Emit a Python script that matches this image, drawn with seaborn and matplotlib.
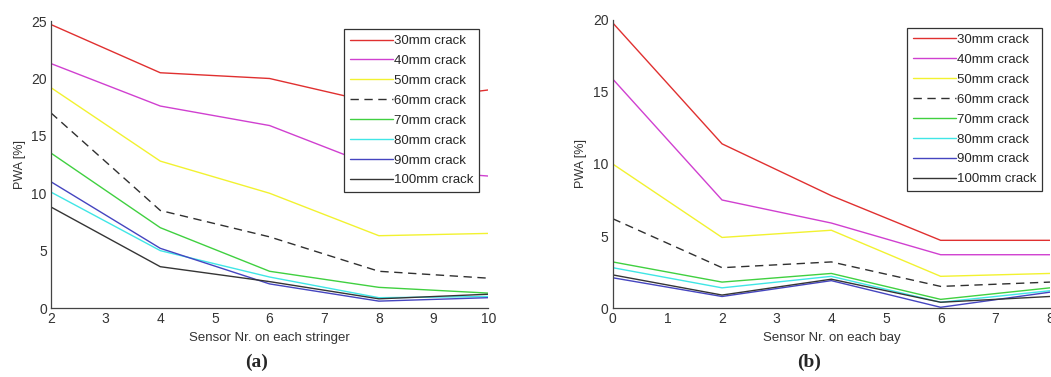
import numpy as np
import pandas as pd
import matplotlib
matplotlib.use('Agg')
import matplotlib.pyplot as plt
import seaborn as sns

sns.set_style('white')
plt.rcParams['font.family'] = ['Liberation Sans', 'DejaVu Sans']

cracks = ['30mm crack', '40mm crack', '50mm crack', '60mm crack',
          '70mm crack', '80mm crack', '90mm crack', '100mm crack']
colors = ['#e03030', '#d040d0', '#f2f230', '#303030',
          '#40d040', '#40e6e6', '#4545c0', '#353535']

# (a) sensors on each stringer
x_a = [2, 4, 6, 8, 10]
pwa_a = {
    '30mm crack': [24.7, 20.5, 20.0, 17.8, 19.0],
    '40mm crack': [21.3, 17.6, 15.9, 12.2, 11.5],
    '50mm crack': [19.2, 12.8, 10.0, 6.3, 6.5],
    '60mm crack': [17.0, 8.5, 6.2, 3.2, 2.6],
    '70mm crack': [13.5, 7.0, 3.2, 1.8, 1.3],
    '80mm crack': [10.1, 5.0, 2.7, 0.9, 1.0],
    '90mm crack': [11.0, 5.2, 2.1, 0.6, 0.9],
    '100mm crack': [8.8, 3.6, 2.3, 0.8, 1.2],
}

# (b) sensors on each bay
x_b = [0, 2, 4, 6, 8]
pwa_b = {
    '30mm crack': [19.8, 11.4, 7.8, 4.7, 4.7],
    '40mm crack': [15.9, 7.5, 5.9, 3.7, 3.7],
    '50mm crack': [10.0, 4.9, 5.4, 2.2, 2.4],
    '60mm crack': [6.2, 2.8, 3.2, 1.5, 1.8],
    '70mm crack': [3.2, 1.8, 2.4, 0.6, 1.4],
    '80mm crack': [2.8, 1.4, 2.2, 0.4, 1.2],
    '90mm crack': [2.1, 0.8, 1.9, 0.05, 1.1],
    '100mm crack': [2.3, 0.9, 2.0, 0.4, 0.8],
}


def to_long(xs, data):
    rows = []
    for c in cracks:
        for x, v in zip(xs, data[c]):
            rows.append({'sensor': x, 'PWA': v, 'crack': c})
    return pd.DataFrame(rows)


palette = dict(zip(cracks, colors))
dashes = {c: (6, 4) if c == '60mm crack' else '' for c in cracks}

fig = plt.figure(figsize=(10.51, 3.77), dpi=100)
ax_a = fig.add_axes([0.0485, 0.183, 0.416, 0.761])
ax_b = fig.add_axes([0.583, 0.183, 0.416, 0.764])

panels = [
    (ax_a, x_a, pwa_a, 'Sensor Nr. on each stringer', (2, 10), (0, 25), [0, 5, 10, 15, 20, 25], '(a)',
     (0.327, 0.923), 0.47),
    (ax_b, x_b, pwa_b, 'Sensor Nr. on each bay', (0, 8), (0, 20), [0, 5, 10, 15, 20], '(b)',
     (0.863, 0.926), 0.45),
]

for ax, xs, data, xlabel, xlim, ylim, yticks, tag, leg_pos, tag_x in panels:
    df = to_long(xs, data)
    sns.lineplot(data=df, x='sensor', y='PWA', hue='crack', style='crack',
                 palette=palette, dashes=dashes, linewidth=1.0, ax=ax,
                 legend=True)
    ax.set_xlim(*xlim)
    ax.set_ylim(*ylim)
    ax.set_xticks(range(xlim[0], xlim[1] + 1))
    ax.set_yticks(yticks)
    ax.set_xlabel(xlabel, fontsize=9.5, color='#333333', labelpad=4)
    ax.set_ylabel('PWA [%]', fontsize=9, color='#333333', labelpad=4)
    ax.tick_params(direction='in', length=4, labelsize=10, colors='#333333', pad=3)
    for s in ['top', 'right']:
        ax.spines[s].set_visible(False)
    for s in ['left', 'bottom']:
        ax.spines[s].set_color('#444444')
        ax.spines[s].set_linewidth(0.9)
    handles, labels = ax.get_legend_handles_labels()
    leg = ax.legend(handles, labels, loc='upper left', bbox_to_anchor=leg_pos,
                    bbox_transform=fig.transFigure, fontsize=9.5, frameon=True,
                    handlelength=3.3, handletextpad=0.05, labelspacing=0.58,
                    borderpad=0.45, borderaxespad=0, fancybox=False,
                    edgecolor='#333333', framealpha=1)
    leg.get_frame().set_linewidth(0.9)
    ax.text(tag_x, -0.19, tag, transform=ax.transAxes, ha='center', va='center',
            fontsize=14, fontweight='bold', family='Liberation Serif')

fig.savefig('out.png', dpi=100)
